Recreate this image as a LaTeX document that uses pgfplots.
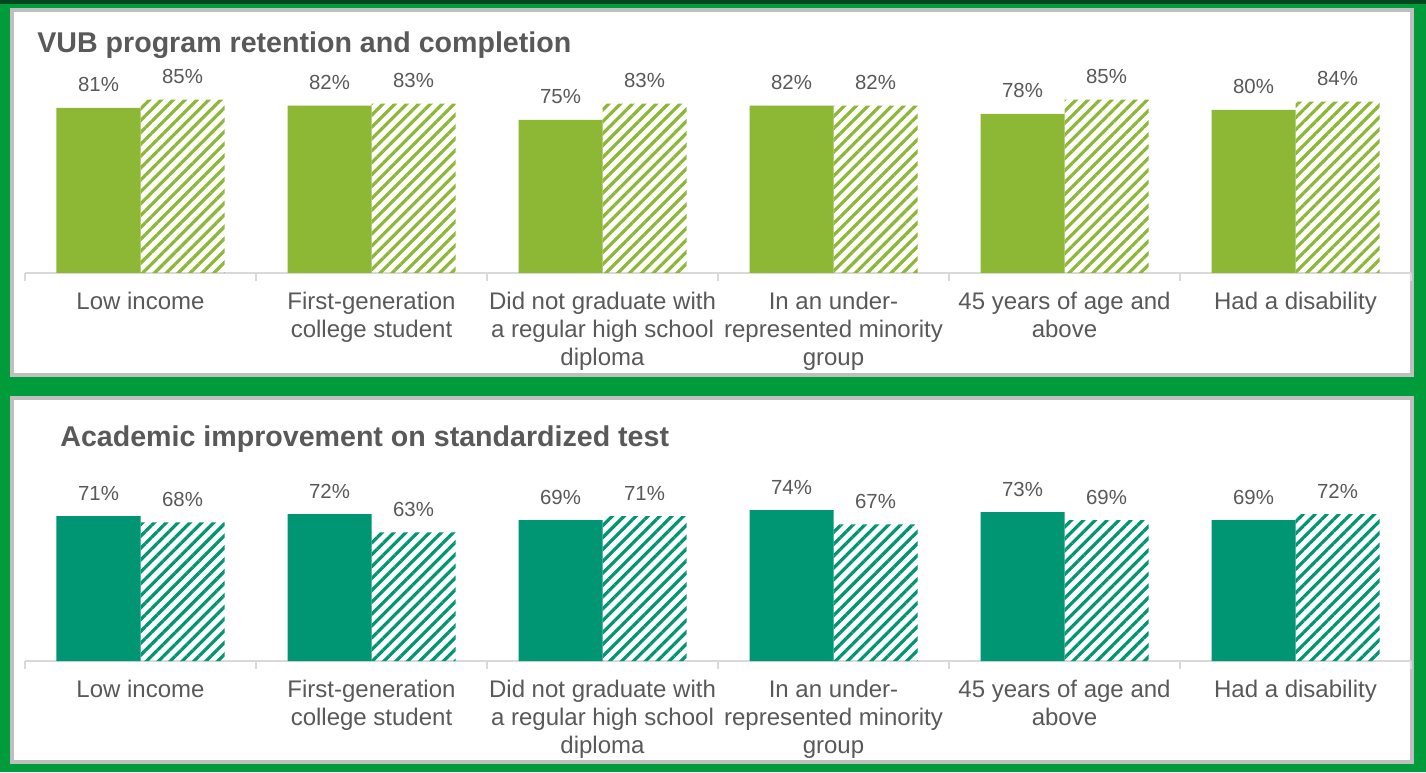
\documentclass[border=0pt]{standalone}
\usepackage{fontspec}
\setmainfont{Liberation Sans}
\usepackage{pgfplots}
\pgfplotsset{compat=1.18}
\usetikzlibrary{patterns.meta}

\definecolor{bggreen}{RGB}{0,155,58}
\definecolor{darkgreen}{RGB}{0,70,30}
\definecolor{panelgrey}{RGB}{191,191,191}
\definecolor{axisgrey}{RGB}{217,217,217}
\definecolor{textgrey}{RGB}{89,89,89}
\definecolor{lightgreen}{RGB}{140,184,54}
\definecolor{teal}{RGB}{0,150,116}

\newcommand\titlefont{\fontsize{14.3}{17}\selectfont\bfseries}
\newcommand\labelfont{\fontsize{12}{14}\selectfont}
\newcommand\valfont{\fontsize{10.2}{12}\selectfont}

\pgfplotsset{
  panel/.style={
    scale only axis,
    width=693pt, height=102pt,
    anchor=south west,
    xmin=-0.5, xmax=5.5, ymin=0, ymax=100,
    axis x line*=bottom,
    axis y line=none,
    axis line style={draw=axisgrey, line width=0.75pt},
    xtick={0,...,5},
    major tick length=0pt,
    tick align=outside,
    extra x ticks={-0.5,0.5,1.5,2.5,3.5,4.5,5.5},
    extra x tick labels={},
    extra x tick style={major tick length=4pt, tick style={draw=axisgrey, line width=0.75pt}},
    xticklabels={Low income,
      {First-generation\\college student},
      {Did not graduate with\\a regular high school\\diploma},
      {In an under-\\represented minority\\group},
      {45 years of age and\\above},
      Had a disability},
    xticklabel style={align=center, font=\labelfont, text=textgrey, inner sep=0pt, yshift=-9.5pt},
    ybar=0pt, bar width=42pt,
    clip=false,
    /pgf/number format/assume math mode=true,
    nodes near coords={\pgfmathprintnumber{\pgfplotspointmeta}\%},
    nodes near coords style={font=\valfont, text=textgrey, anchor=base, inner sep=0pt, yshift=8pt},
  },
}

\begin{document}
\begin{tikzpicture}[x=0.5pt,y=0.5pt]
\useasboundingbox (0,0) rectangle (1426,772);
\fill[bggreen] (0,0) rectangle (1426,772);
\fill[darkgreen] (0,768) rectangle (1426,772);
\filldraw[fill=white, draw=panelgrey, line width=2pt] (12,397) rectangle (1412,762);
\filldraw[fill=white, draw=panelgrey, line width=2pt] (12,10) rectangle (1412,374);
\node[anchor=base west, inner sep=0pt, text=textgrey] at (37,719) {\titlefont VUB program retention and completion};
\node[anchor=base west, inner sep=0pt, text=textgrey] at (60,325) {\titlefont Academic improvement on standardized test};

\begin{axis}[panel, at={(12.5pt,249.5pt)}]
\addplot[fill=lightgreen, draw=none] coordinates {(0,81) (1,82) (2,75) (3,82) (4,78) (5,80)};
\addplot[pattern={Lines[angle=45,distance=4.2pt,line width=1.6pt]}, pattern color=lightgreen, draw=none]
  coordinates {(0,85) (1,83) (2,83) (3,82) (4,85) (5,84)};
\end{axis}

\begin{axis}[panel, at={(12.5pt,55.5pt)}]
\addplot[fill=teal, draw=none] coordinates {(0,71) (1,72) (2,69) (3,74) (4,73) (5,69)};
\addplot[pattern={Lines[angle=45,distance=4.2pt,line width=1.6pt]}, pattern color=teal, draw=none]
  coordinates {(0,68) (1,63) (2,71) (3,67) (4,69) (5,72)};
\end{axis}
\end{tikzpicture}
\end{document}
